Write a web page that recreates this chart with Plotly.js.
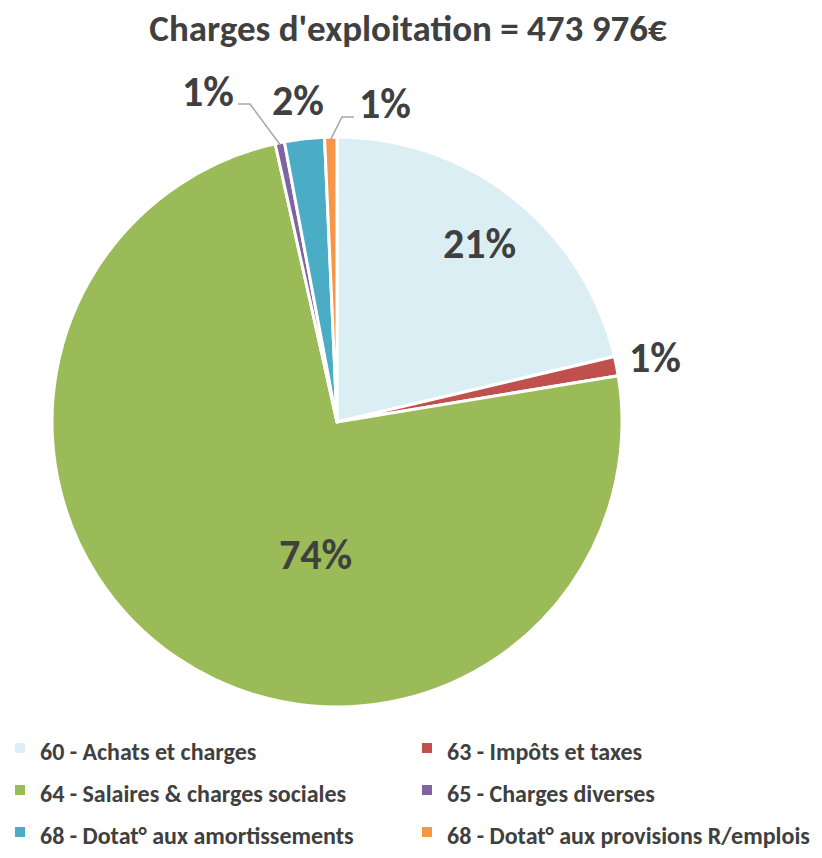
<!DOCTYPE html>
<html>
<head>
<meta charset="utf-8">
<script src="https://cdn.plot.ly/plotly-3.0.1.min.js"></script>
<style>html,body{margin:0;padding:0;background:#fff;}#chart{width:822px;height:858px;}</style>
</head>
<body>
<div id="chart"></div>
<script>
// ---- data ----
const categories = [
  "60 - Achats et charges",
  "63 - Impôts et taxes",
  "64 - Salaires & charges sociales",
  "65 - Charges diverses",
  "68 - Dotat° aux amortissements",
  "68 - Dotat° aux provisions R/emplois"
];
const values = [101000, 5200, 351276, 2500, 10700, 3300];
const colors = ["#DAEEF3", "#C0504D", "#9BBB59", "#8064A2", "#4BACC6", "#F79646"];
const chartTitle = "Charges d'exploitation = 473 976€";

// ---- layout helpers (positions in px, converted to paper) ----
const W = 822, H = 858, MB = 136;
const PH = H - MB;
const FONT = "Carlito, 'Liberation Sans', 'Open Sans', sans-serif";
const TEXTCOL = "#404040";
const px = x => x / W;
const py = y => (PH - y) / PH;
const CX = 337, CY = 422, R = 285;

// label centre positions for each slice, in px
const labelPos = [[480, 243], [655, 357], [315, 554], [208, 91], [298, 100], [385, 104]];
// elbow leader lines: [slice index, elbow point, end point]
const leaders = [
  [3, [250, 104], [238, 104]],
  [5, [342, 117], [354, 117]]
];

const total = values.reduce((a, b) => a + b, 0);
const pctText = values.map(v => Math.round(v / total * 100) + "%");

// angle (clockwise from 12 o'clock) of each slice middle
const midAngles = [];
let acc = 0;
values.forEach(v => {
  const a0 = acc / total * 2 * Math.PI;
  acc += v;
  const a1 = acc / total * 2 * Math.PI;
  midAngles.push((a0 + a1) / 2);
});

const annotations = pctText.map((t, i) => ({
  text: t,
  xref: "paper", yref: "paper",
  x: px(labelPos[i][0]), y: py(labelPos[i][1]),
  xanchor: "center", yanchor: "middle",
  showarrow: false,
  font: { family: FONT, size: 42, color: TEXTCOL, weight: "bold" }
}));

const shapes = leaders.map(([i, elbow, end]) => {
  const a = midAngles[i];
  const sx = CX + (R - 2) * Math.sin(a), sy = CY - (R - 2) * Math.cos(a);
  return {
    type: "path", xref: "paper", yref: "paper",
    path: `M ${px(sx)} ${py(sy)} L ${px(elbow[0])} ${py(elbow[1])} L ${px(end[0])} ${py(end[1])}`,
    line: { color: "#A6A6A6", width: 1.5 }
  };
});

const trace = {
  type: "pie",
  labels: categories.map(c => `<span style="font-size:24px">${c}</span>`),
  values: values,
  sort: false,
  direction: "clockwise",
  rotation: 0,
  marker: { colors: colors, line: { color: "#ffffff", width: 3 } },
  textinfo: "none",
  domain: { x: [px(CX - R), px(CX + R)], y: [py(CY + R), py(CY - R)] },
  hoverinfo: "label+value+percent"
};

const layout = {
  width: W,
  height: H,
  margin: { l: 0, r: 0, t: 0, b: MB },
  paper_bgcolor: "#ffffff",
  title: {
    text: chartTitle,
    font: { family: FONT, size: 37, color: TEXTCOL, weight: "bold" },
    x: 408 / W, xanchor: "center", y: 1 - 28 / H, yanchor: "middle"
  },
  showlegend: true,
  legend: {
    orientation: "h",
    x: 0, xanchor: "left",
    y: py(722), yanchor: "top",
    entrywidth: 362, entrywidthmode: "pixels",
    font: { family: FONT, size: 30, color: TEXTCOL, weight: "bold" },
    itemsizing: "constant"
  },
  annotations: annotations,
  shapes: shapes
};

Plotly.newPlot("chart", [trace], layout, { displayModeBar: false, staticPlot: true });
</script>
</body>
</html>
